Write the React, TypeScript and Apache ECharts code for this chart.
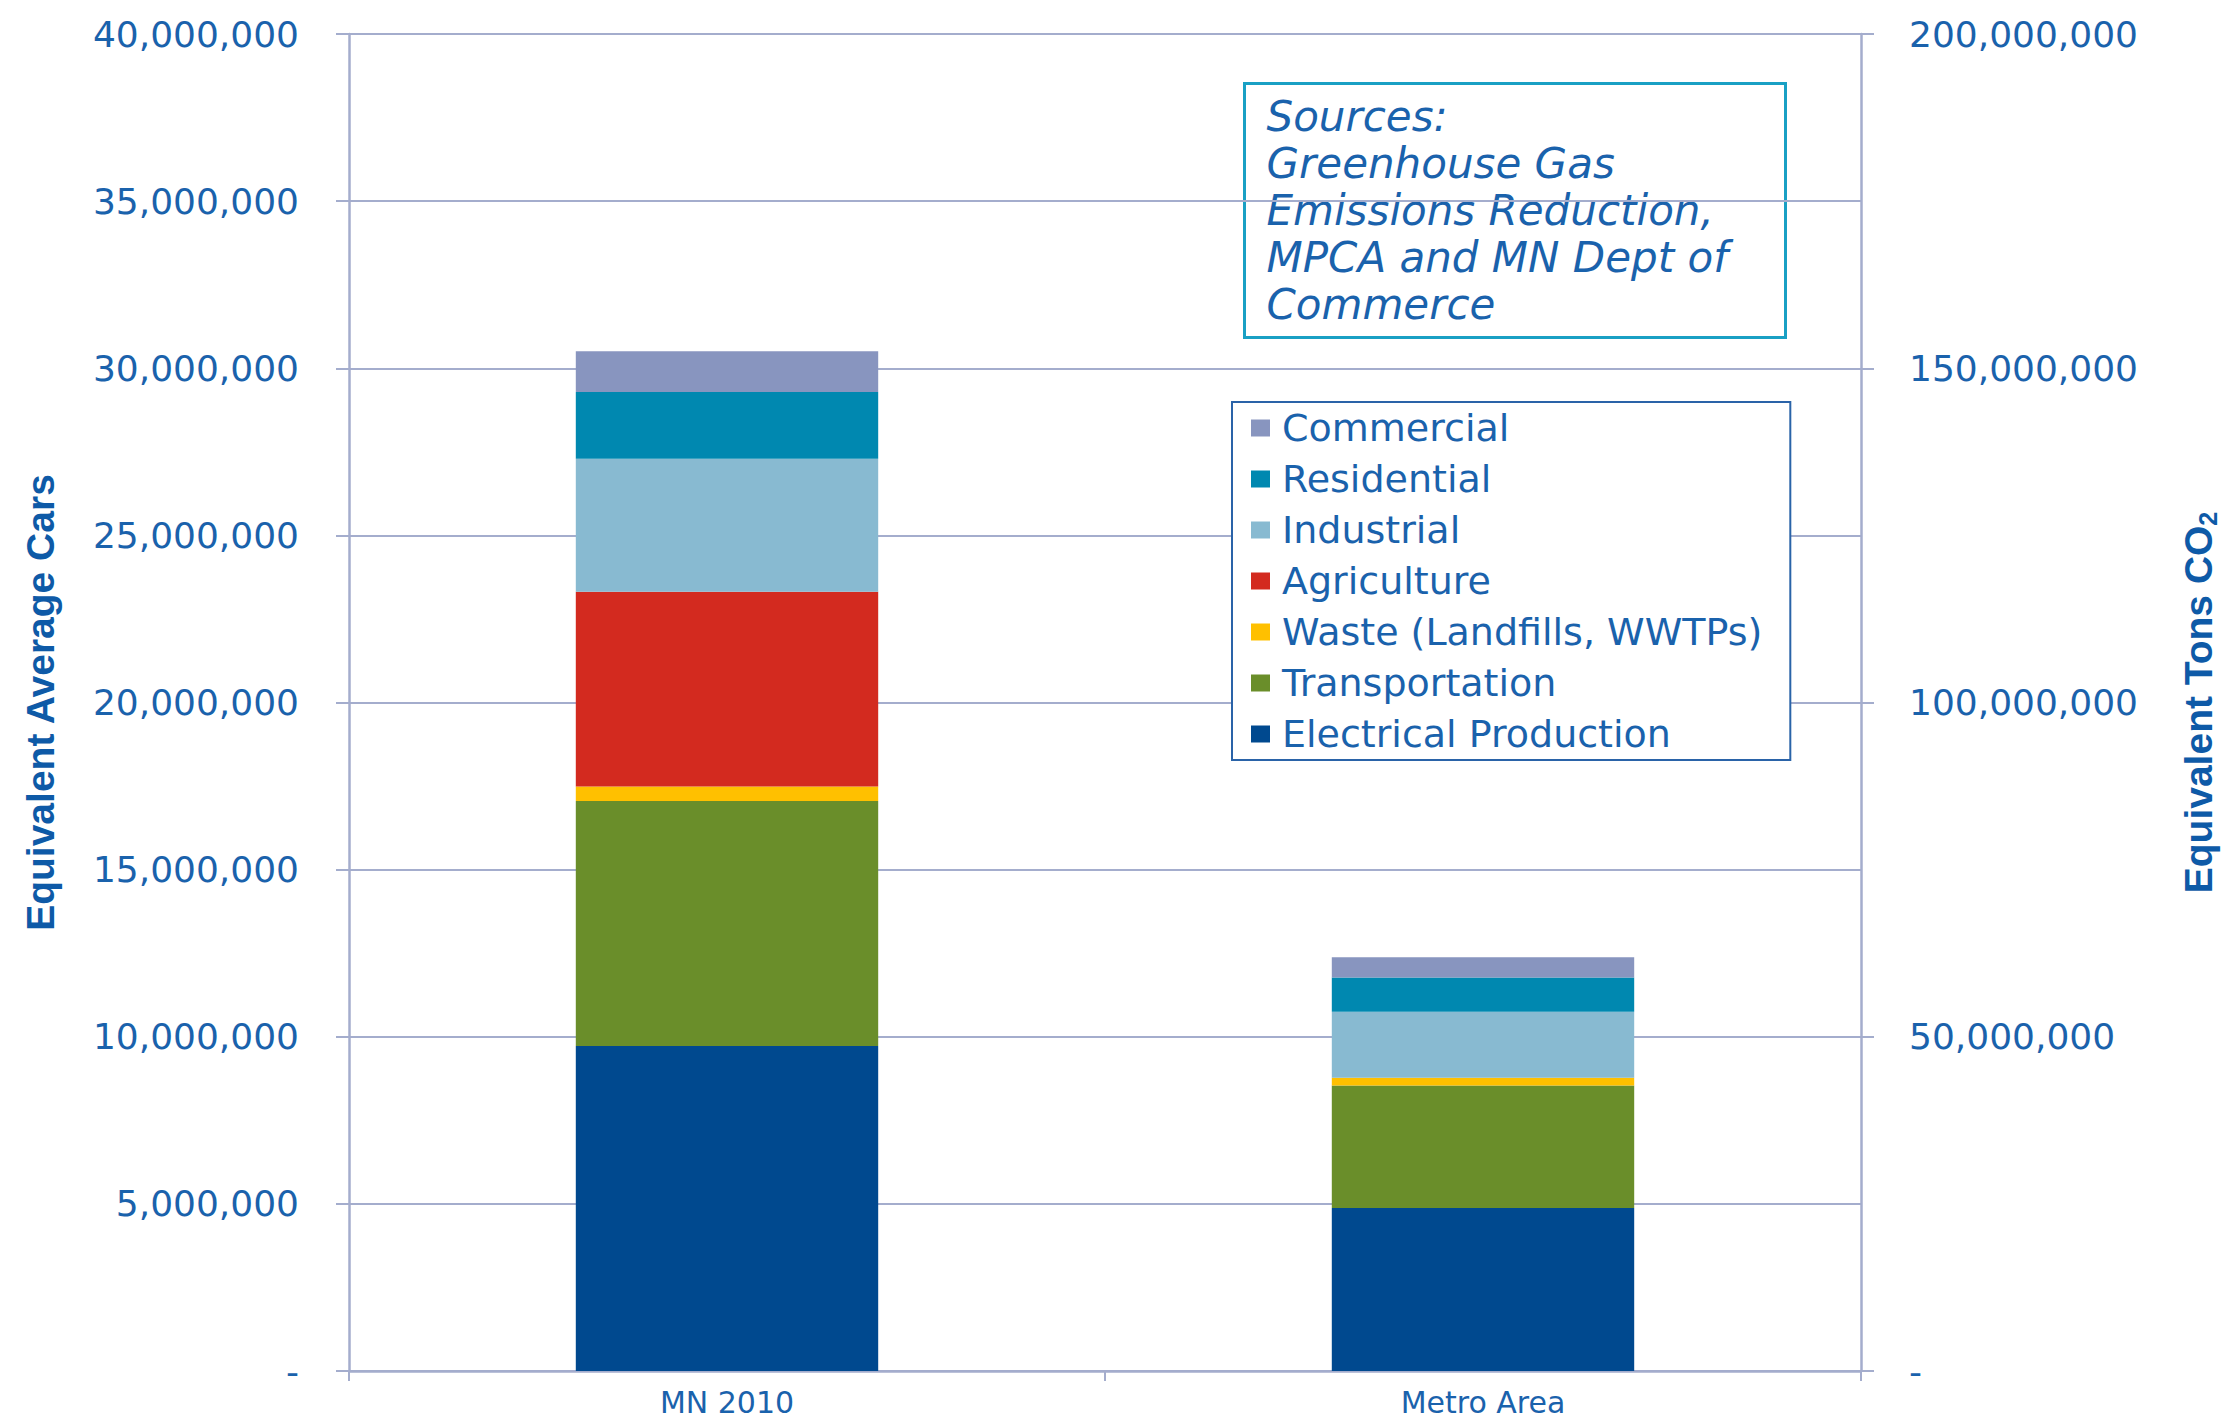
import React, { useEffect, useRef } from "react";
import * as echarts from "echarts";

const categories = ["MN 2010", "Metro Area"];
const seriesNames = [
  "Electrical Production",
  "Transportation",
  "Waste (Landfills, WWTPs)",
  "Agriculture",
  "Industrial",
  "Residential",
  "Commercial",
];
const electrical = [9720000, 4880000];
const transportation = [7330000, 3660000];
const waste = [440000, 230000];
const agriculture = [5820000, 0];
const industrial = [3980000, 1980000];
const residential = [2000000, 1020000];
const commercial = [1220000, 610000];
const seriesValues = [electrical, transportation, waste, agriculture, industrial, residential, commercial];
const seriesColors = ["#00498F", "#6A8E2A", "#FFC000", "#D32A1F", "#88BAD1", "#0088B0", "#8895BF"];

const sourceLines = [
  "Sources:",
  "Greenhouse Gas",
  "Emissions Reduction,",
  "MPCA and MN Dept of",
  "Commerce",
];

const TEXT = "#1A62AC";
const GRID = "#A4ADCD";
const FONT = "DejaVu Sans";

const fmt = (v: number) => (v === 0 ? "-" : v.toLocaleString("en-US"));

export default function App() {
  const ref = useRef<HTMLDivElement>(null);
  useEffect(() => {
    if (!ref.current) return;
    const chart = echarts.init(ref.current, undefined, { renderer: "svg" });
    chart.setOption({
      animation: false,
      backgroundColor: "#ffffff",
      grid: { left: 349, right: 368, top: 34, bottom: 50, containLabel: false },
      legend: {
        orient: "vertical",
        left: 1232,
        top: 402,
        data: [...seriesNames].reverse(),
        icon: "rect",
        itemWidth: 19,
        itemHeight: 17,
        itemGap: 11,
        padding: [6, 28, 6, 19],
        borderColor: "#2A63A8",
        borderWidth: 2,
        backgroundColor: "#ffffff",
        textStyle: {
          color: TEXT,
          fontFamily: FONT,
          fontSize: 38,
          lineHeight: 40,
          padding: [0, 0, 0, 7],
        },
      },
      xAxis: {
        type: "category",
        data: categories,
        axisLine: { lineStyle: { color: GRID, width: 2.5 } },
        axisTick: { show: true, length: 10, lineStyle: { color: GRID, width: 2 } },
        axisLabel: { color: TEXT, fontFamily: FONT, fontSize: 30, lineHeight: 30, margin: 16 },
      },
      yAxis: [
        {
          type: "value",
          min: 0,
          max: 40000000,
          interval: 5000000,
          name: "Equivalent Average Cars",
          nameLocation: "middle",
          nameRotate: 90,
          nameGap: 289,
          nameTextStyle: {
            color: "#0E5AA7",
            fontFamily: "Liberation Sans",
            fontWeight: "bold",
            fontSize: 39,
          },
          axisLine: { show: true, lineStyle: { color: GRID, width: 2.5 } },
          axisTick: { show: true, length: 13, lineStyle: { color: GRID, width: 2 } },
          splitLine: { show: true, lineStyle: { color: GRID, width: 2 } },
          axisLabel: { color: TEXT, fontFamily: FONT, fontSize: 36, margin: 50, formatter: fmt },
        },
        {
          type: "value",
          min: 0,
          max: 200000000,
          interval: 50000000,
          name: "{a|Equivalent Tons CO}{b|2}",
          nameLocation: "middle",
          nameRotate: 90,
          nameGap: 315,
          nameTextStyle: {
            rich: {
              a: {
                color: "#0E5AA7",
                fontFamily: "Liberation Sans",
                fontWeight: "bold",
                fontSize: 39,
                lineHeight: 44,
              },
              b: {
                color: "#0E5AA7",
                fontFamily: "Liberation Sans",
                fontWeight: "bold",
                fontSize: 25,
                lineHeight: 30,
                verticalAlign: "bottom",
              },
            },
          },
          axisLine: { show: true, lineStyle: { color: GRID, width: 2.5 } },
          axisTick: { show: true, length: 13, lineStyle: { color: GRID, width: 2 } },
          splitLine: { show: false },
          axisLabel: { color: TEXT, fontFamily: FONT, fontSize: 36, margin: 48, formatter: fmt },
        },
      ],
      series: seriesNames.map((name, i) => ({
        name,
        type: "bar",
        stack: "total",
        yAxisIndex: 0,
        barWidth: "40%",
        data: seriesValues[i],
        itemStyle: { color: seriesColors[i] },
      })),
      graphic: [
        {
          type: "group",
          left: 1243,
          top: 82,
          children: [
            {
              type: "rect",
              shape: { x: 0, y: 0, width: 541, height: 254 },
              style: { fill: "#ffffff", stroke: "#19A0C4", lineWidth: 3 },
            },
            {
              type: "text",
              x: 22,
              y: 9,
              style: {
                text: sourceLines.join("\n"),
                fill: TEXT,
                fontFamily: FONT,
                fontStyle: "italic",
                fontSize: 42,
                lineHeight: 47,
              },
            },
          ],
        },
      ],
    });
    return () => chart.dispose();
  }, []);
  return (
    <div
      ref={ref}
      style={{ position: "fixed", left: 0, top: 0, width: 2229, height: 1421, background: "#fff" }}
    />
  );
}
